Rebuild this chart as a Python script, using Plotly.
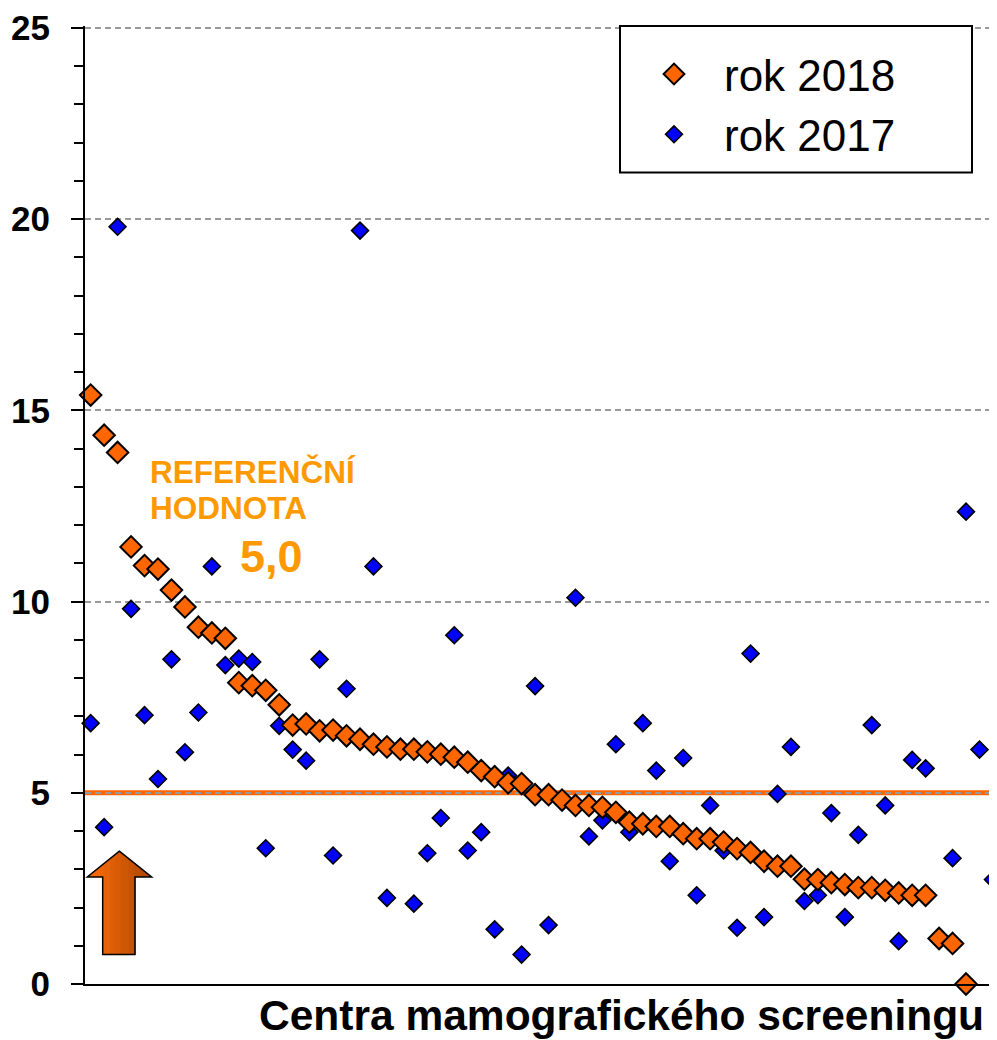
import plotly.graph_objects as go

# ---- data ----
centers = list(range(1, 69))
rok_2018 = [15.4, 14.35, 13.9, 11.43, 10.94, 10.85, 10.3, 9.86, 9.33, 9.18,
            9.04, 7.88, 7.8, 7.68, 7.3, 6.77, 6.8, 6.62, 6.64, 6.49,
            6.40, 6.27, 6.2, 6.14, 6.14, 6.07, 6.01, 5.93, 5.80, 5.58,
            5.42, 5.26, 5.24, 4.95, 4.95, 4.81, 4.67, 4.67, 4.62, 4.49,
            4.23, 4.19, 4.12, 4.12, 3.93, 3.80, 3.80, 3.71, 3.54, 3.44,
            3.21, 3.08, 3.08, 2.74, 2.73, 2.65, 2.60, 2.52, 2.52, 2.45,
            2.38, 2.32, 2.32, 1.19, 1.06, 0.0, None, None]
rok_2017 = [6.82, 4.1, 19.8, 9.81, 7.03, 5.36, 8.49, 6.06, 7.1, 10.92,
            8.34, 8.51, 8.42, 3.55, 6.75, 6.13, 5.84, 8.49, 3.36, 7.72,
            19.7, 10.92, 2.25, None, 2.1, 3.42, 4.34, 9.12, 3.49, 3.97,
            1.43, 5.45, 0.77, 7.79, 1.54, None, 10.1, 3.86, 4.28, 6.27,
            3.97, 6.82, 5.58, 3.21, 5.91, 2.32, 4.67, 3.49, 1.47, 8.64,
            1.75, 4.97, 6.20, 2.17, 2.32, 4.47, 1.75, 3.90, 6.77, 4.67,
            1.12, 5.86, 5.64, None, 3.29, 12.35, 6.13, 2.73]
reference_value = 5.0
y_ticks = [0, 5, 10, 15, 20, 25]

FONT = "Arial, Liberation Sans, sans-serif"
ORANGE = "#FF6600"
BLUE = "#0000FF"
TXT_ORANGE = "#FF9900"

OFF = 8  # page body margin
W, H = 989, 1032
ML, MR, MT, MB = 77, 0, 15, 56
PW, PH = W - ML - MR, H - MT - MB


def px(xs):
    # screen x -> paper x
    return (xs - OFF - ML) / PW


def py(ys):
    # screen y -> paper y
    return (H - MB - (ys - OFF)) / PH


fig = go.Figure()

fig.add_trace(go.Scatter(
    x=centers, y=rok_2017, mode="markers", name="rok 2017",
    marker=dict(symbol="diamond", size=13, color=BLUE,
                line=dict(color="black", width=1.6)),
    cliponaxis=False,
))
fig.add_trace(go.Scatter(
    x=centers, y=rok_2018, mode="markers", name="rok 2018",
    marker=dict(symbol="diamond", size=16.5, color=ORANGE,
                line=dict(color="black", width=2)),
    cliponaxis=False,
))

shapes = []
# reference line
shapes.append(dict(type="line", xref="paper", yref="y", x0=0, x1=px(993),
                   y0=reference_value, y1=reference_value,
                   line=dict(color=ORANGE, width=5), layer="below"))

# legend box
shapes.append(dict(type="rect", xref="paper", yref="paper",
                   x0=px(620), x1=px(972), y0=py(170), y1=py(23),
                   line=dict(color="black", width=2), fillcolor="white",
                   layer="above"))

# gradient arrow built from vertical slices
tip = (119.3, 850.7)
wl, wr = 87.3, 151.7
head_base = 876.7
sl, sr = 102.7, 135.0
bottom = 954.3


def top_y(x):
    if x <= tip[0]:
        return head_base + (tip[1] - head_base) * (x - wl) / (tip[0] - wl)
    return tip[1] + (head_base - tip[1]) * (x - tip[0]) / (wr - tip[0])


def lerp_color(t):
    c0 = (255, 110, 10)
    c1 = (170, 70, 0)
    c = [round(a + (b - a) * t) for a, b in zip(c0, c1)]
    return "rgb(%d,%d,%d)" % tuple(c)


bounds = []
for a, b, n in [(wl, sl, 5), (sl, tip[0], 6), (tip[0], sr, 6), (sr, wr, 5)]:
    for k in range(n):
        bounds.append((a + (b - a) * k / n, a + (b - a) * (k + 1) / n))
for a, b in bounds:
    mid = (a + b) / 2
    bot = bottom if (mid > sl and mid < sr) else head_base
    b2 = min(b + 0.6, wr)
    pts = [(a, top_y(a)), (b2, top_y(b2)), (b2, bot), (a, bot)]
    path = "M " + " L ".join("%.4f,%.4f" % (px(x), py(y)) for x, y in pts) + " Z"
    shapes.append(dict(type="path", xref="paper", yref="paper", path=path,
                       fillcolor=lerp_color((mid - wl) / (wr - wl)),
                       line=dict(width=0), layer="above"))
outline = [(tip[0], tip[1]), (wr, head_base), (sr, head_base), (sr, bottom),
           (sl, bottom), (sl, head_base), (wl, head_base)]
shapes.append(dict(type="path", xref="paper", yref="paper",
                   path="M " + " L ".join("%.4f,%.4f" % (px(x), py(y)) for x, y in outline) + " Z",
                   line=dict(color="black", width=1.5), layer="above"))

annotations = [
    dict(text="REFERENČNÍ", xref="paper", yref="paper", x=px(148), y=py(470),
         xanchor="left", yanchor="middle", showarrow=False,
         font=dict(family=FONT, size=31.5, color=TXT_ORANGE, weight="bold")),
    dict(text="HODNOTA", xref="paper", yref="paper", x=px(148), y=py(507),
         xanchor="left", yanchor="middle", showarrow=False,
         font=dict(family=FONT, size=31.5, color=TXT_ORANGE, weight="bold")),
    dict(text="5,0", xref="paper", yref="paper", x=px(271), y=py(555),
         xanchor="center", yanchor="middle", showarrow=False,
         font=dict(family=FONT, size=45, color=TXT_ORANGE, weight="bold")),
    dict(text="Centra mamografického screeningu", xref="paper", yref="paper",
         x=px(986), y=py(1016), xanchor="right", yanchor="middle", showarrow=False,
         font=dict(family=FONT, size=42.5, color="black", weight="bold")),
]

fig.update_layout(
    width=W, height=H,
    margin=dict(l=ML, r=MR, t=MT, b=MB),
    paper_bgcolor="white", plot_bgcolor="white",
    font=dict(family=FONT, color="black"),
    shapes=shapes, annotations=annotations,
    showlegend=True,
    legend=dict(x=px(624), y=py(36), xanchor="left", yanchor="top",
                bgcolor="rgba(0,0,0,0)", borderwidth=0, traceorder="reversed",
                itemwidth=90,
                font=dict(family=FONT, size=44, color="black")),
    xaxis=dict(range=[0.58, 68.3], showgrid=False, zeroline=False,
               showline=True, linecolor="black", linewidth=2,
               showticklabels=False, ticks=""),
    yaxis=dict(range=[0, 25.05], tickvals=y_ticks, showgrid=True,
               gridcolor="#999999", gridwidth=2, griddash="6px,4px",
               zeroline=False, showline=True, linecolor="black", linewidth=2,
               ticks="outside", ticklen=12, tickwidth=2, tickcolor="black",
               ticklabelstandoff=14, ticklabeloverflow="allow",
               tickfont=dict(family=FONT, size=35, color="black", weight="bold"),
               minor=dict(dtick=1, ticks="outside", ticklen=9, tickwidth=2,
                          tickcolor="black", showgrid=False)),
)

fig.write_html("out.html")
